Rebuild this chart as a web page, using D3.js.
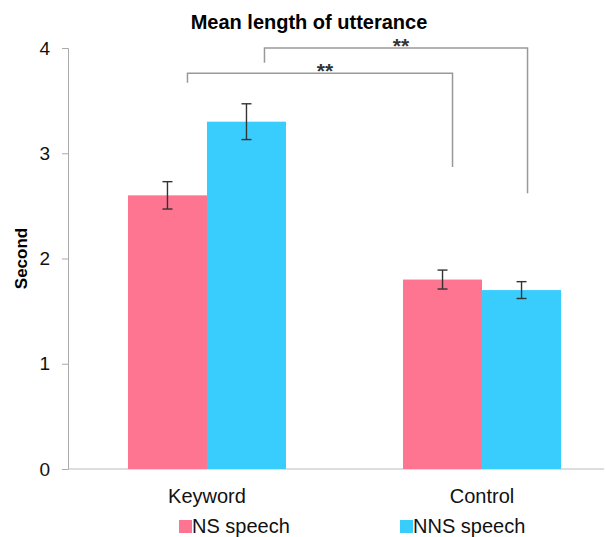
<!DOCTYPE html>
<html>
<head>
<meta charset="utf-8">
<script src="https://cdn.jsdelivr.net/npm/d3@7"></script>
<style>
  body { margin: 0; background: #fff; }
  text { font-family: "Liberation Sans", Arial, sans-serif; }
</style>
</head>
<body>
<div id="chart"></div>
<script>
// chart data
var categories = ['Keyword', 'Control'];
var seriesNames = ['NS speech', 'NNS speech'];
var seriesColors = ['#fd7591', '#39cdfe'];
var nsValues = [2.6, 1.8];
var nnsValues = [3.3, 1.7];
var nsErrors = [0.13, 0.09];
var nnsErrors = [0.17, 0.08];
var yTicks = [0, 1, 2, 3, 4];

var width = 606, height = 537;
var margin = { top: 48, right: 2, bottom: 68, left: 68 };

var svg = d3.select('#chart').append('svg')
  .attr('width', width)
  .attr('height', height);

var y = d3.scaleLinear().domain([0, 4]).range([height - margin.bottom, margin.top]);
var x0 = d3.scaleBand().domain(categories).range([margin.left, 621])
  .paddingInner(0.4255).paddingOuter(0.218);
var x1 = d3.scaleBand().domain(seriesNames).range([0, x0.bandwidth()]);

// build rows from the arrays
var rows = [];
categories.forEach(function(c, i) {
  rows.push({ cat: c, series: seriesNames[0], value: nsValues[i], err: nsErrors[i], color: seriesColors[0] });
  rows.push({ cat: c, series: seriesNames[1], value: nnsValues[i], err: nnsErrors[i], color: seriesColors[1] });
});

function cx(cat, ser) { return x0(cat) + x1(ser) + x1.bandwidth() / 2; }

// title
svg.append('text')
  .attr('x', 309).attr('y', 29)
  .attr('text-anchor', 'middle')
  .attr('font-size', 20).attr('font-weight', 'bold')
  .text('Mean length of utterance');

// y axis
var yAxis = svg.append('g')
  .attr('transform', 'translate(' + margin.left + ',0)')
  .call(d3.axisLeft(y).tickValues(yTicks).tickFormat(d3.format('d')).tickSize(6).tickPadding(12));
yAxis.select('.domain').attr('stroke', '#aaa');
yAxis.selectAll('.tick line').attr('stroke', '#aaa');
yAxis.selectAll('.tick text').attr('font-size', 19).attr('fill', '#111')
  .attr('font-family', '"Liberation Sans", Arial, sans-serif');

// x axis line
svg.append('line')
  .attr('x1', margin.left).attr('x2', width - margin.right)
  .attr('y1', y(0)).attr('y2', y(0))
  .attr('stroke', '#bbb');

// y title
svg.append('text')
  .attr('transform', 'translate(27,' + y(2) + ') rotate(-90)')
  .attr('text-anchor', 'middle')
  .attr('font-size', 17).attr('font-weight', 'bold')
  .text('Second');

// bars
svg.selectAll('rect.bar').data(rows).enter().append('rect')
  .attr('class', 'bar')
  .attr('x', function(d) { return x0(d.cat) + x1(d.series); })
  .attr('y', function(d) { return y(d.value); })
  .attr('width', x1.bandwidth())
  .attr('height', function(d) { return y(0) - y(d.value); })
  .attr('fill', function(d) { return d.color; });

// error bars
var eb = svg.selectAll('g.err').data(rows).enter().append('g')
  .attr('class', 'err')
  .attr('stroke', '#333').attr('stroke-width', 1.4);
eb.append('line')
  .attr('x1', function(d) { return cx(d.cat, d.series); })
  .attr('x2', function(d) { return cx(d.cat, d.series); })
  .attr('y1', function(d) { return y(d.value + d.err); })
  .attr('y2', function(d) { return y(d.value - d.err); });
[1, -1].forEach(function(s) {
  eb.append('line')
    .attr('x1', function(d) { return cx(d.cat, d.series) - 5; })
    .attr('x2', function(d) { return cx(d.cat, d.series) + 5; })
    .attr('y1', function(d) { return y(d.value + s * d.err); })
    .attr('y2', function(d) { return y(d.value + s * d.err); });
});

// significance brackets (NS vs NS, NNS vs NNS across conditions)
var brackets = [
  { series: seriesNames[0], level: 3.76, leftEnd: 3.67, rightEnd: 2.87, dl: 20, dr: 10 },
  { series: seriesNames[1], level: 4.0, leftEnd: 3.86, rightEnd: 2.62, dl: 18, dr: 6 }
];
brackets.forEach(function(b) {
  var xa = cx(categories[0], b.series) + b.dl;
  var xb = cx(categories[1], b.series) + b.dr;
  svg.append('path')
    .attr('d', 'M' + xa + ',' + y(b.leftEnd) + 'V' + y(b.level) + 'H' + xb + 'V' + y(b.rightEnd))
    .attr('fill', 'none').attr('stroke', '#999').attr('stroke-width', 1.5);
  svg.append('text')
    .attr('x', (xa + xb) / 2 + 5).attr('y', y(b.level) + 5)
    .attr('text-anchor', 'middle')
    .attr('font-size', 21).attr('font-weight', 'bold').attr('fill', '#333')
    .text('**');
});

// category labels
svg.selectAll('text.cat').data(categories).enter().append('text')
  .attr('class', 'cat')
  .attr('x', function(d) { return x0(d) + x0.bandwidth() / 2; })
  .attr('y', 503)
  .attr('text-anchor', 'middle')
  .attr('font-size', 20).attr('fill', '#111')
  .text(function(d) { return d; });

// legend
var legendX = [179, 400];
var lg = svg.selectAll('g.legend').data(seriesNames).enter().append('g')
  .attr('class', 'legend')
  .attr('transform', function(d, i) { return 'translate(' + legendX[i] + ',520)'; });
lg.append('rect')
  .attr('width', 13).attr('height', 13)
  .attr('fill', function(d, i) { return seriesColors[i]; });
lg.append('text')
  .attr('x', 13).attr('y', 13)
  .attr('font-size', 20).attr('fill', '#111')
  .text(function(d) { return d; });
</script>
</body>
</html>
